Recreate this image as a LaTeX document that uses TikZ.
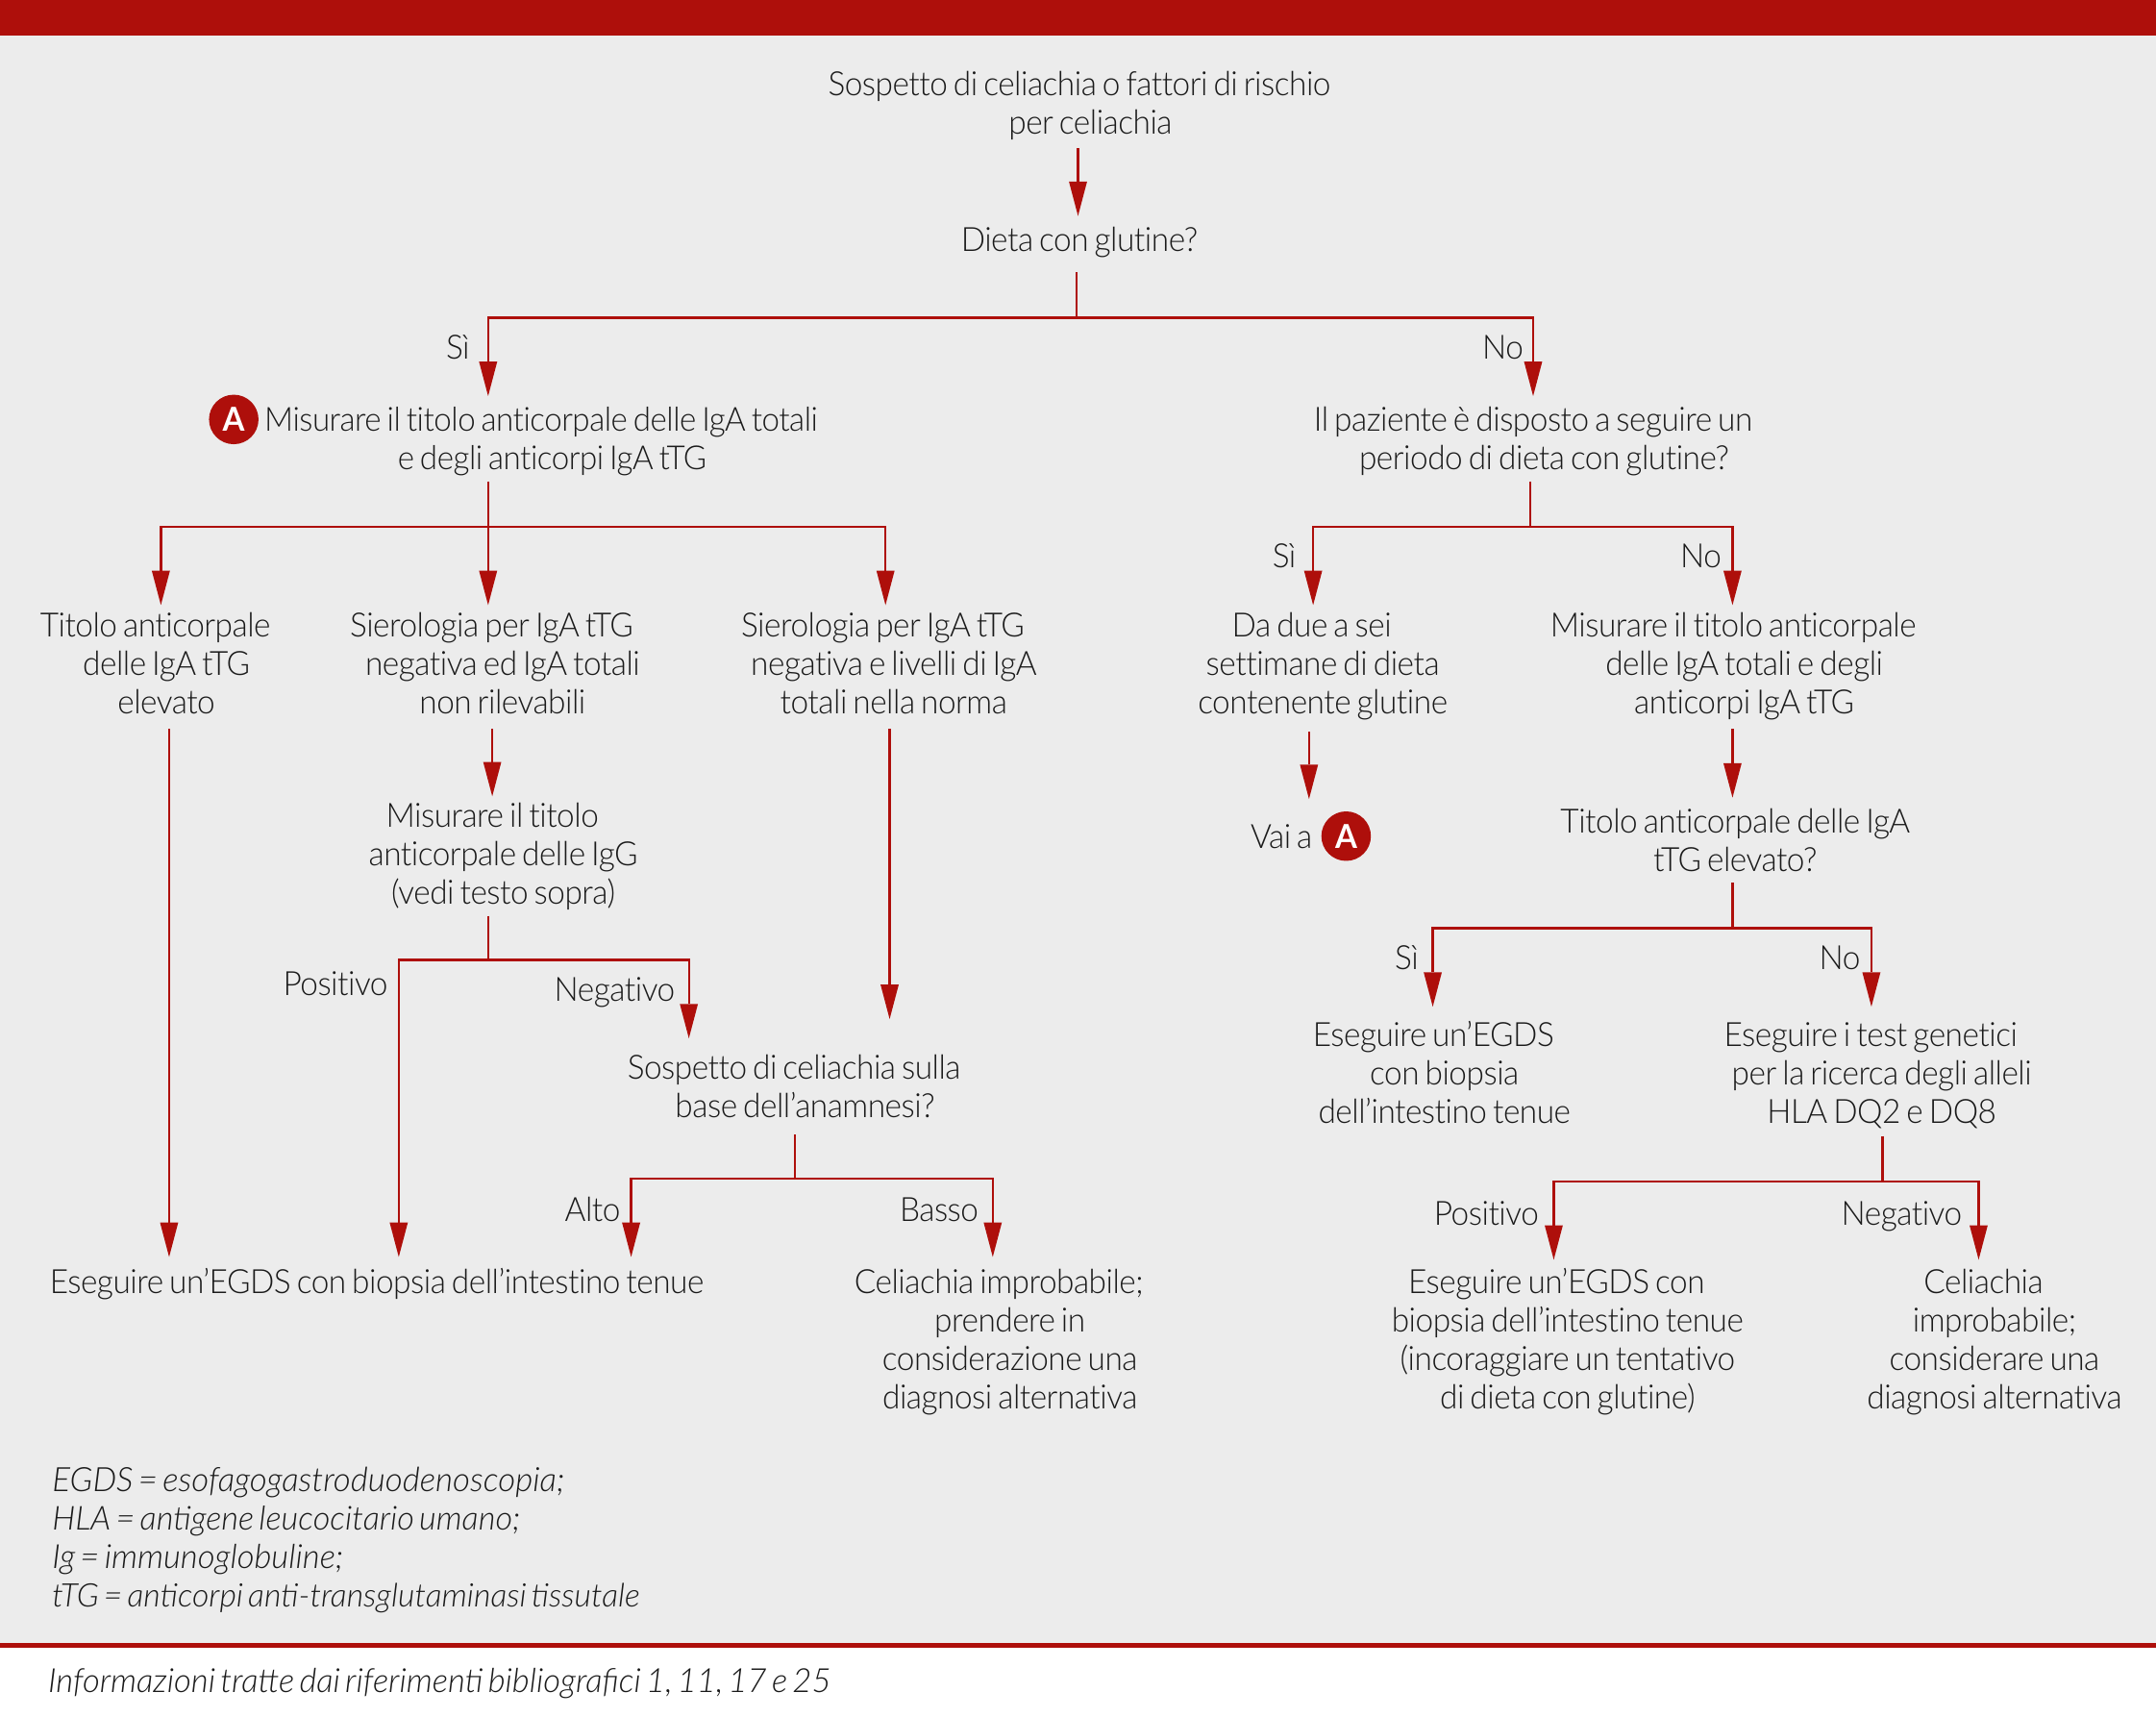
\documentclass[tikz,border=0pt]{standalone}
\usepackage{fontspec}
\setmainfont{Lato Light}[ItalicFont={Lato Light Italic},BoldFont={Lato Bold},WordSpace=0.7,FakeStretch=0.96,LetterSpace=-1.4,Ligatures=NoCommon]
\newfontfamily\notefont{Lato Light Italic}[WordSpace=0.6]
\usetikzlibrary{arrows.meta}
\definecolor{rosso}{HTML}{AE0F0B}
\definecolor{fondo}{HTML}{ECECEC}
\definecolor{testo}{HTML}{1A1A1A}
\newcommand\mystrut{\vrule width 0pt height 11.4pt depth 2.6pt\relax}
\newcommand\FL[1]{\mbox{\mystrut #1\kern 8pt}}
\tikzset{
  x=0.5pt,y=-0.5pt,
  txt/.style={inner sep=0pt,outer sep=0pt,align=center,text=testo,font=\fontsize{12.15}{14}\selectfont,
    execute at begin node=\mystrut,execute at end node=\mystrut},
  lab/.style={txt},
  note/.style={inner sep=0pt,outer sep=0pt,anchor=west,text=testo,font=\fontsize{12.1}{14}\selectfont\notefont,
    execute at begin node=\mystrut},
  badge/.style={circle,fill=rosso,text=white,inner sep=0pt,minimum size=18pt,font=\fontsize{12}{14}\selectfont\bfseries},
  ln/.style={draw=rosso,line width=0.8pt},
  arr/.style={ln,-{Triangle[length=12.5pt,width=6.6pt,line width=0pt]}}
}
\begin{document}
\begin{tikzpicture}
\useasboundingbox (0,0) rectangle (1568,1248);
\fill[white] (0,0) rectangle (1568,1248);
\fill[fondo] (0,26) rectangle (1568,1195);
\fill[rosso] (0,0) rectangle (1568,26);
\fill[rosso] (0,1195) rectangle (1568,1198);

\node[txt] (sosp) at (785,75) {\mbox{\mystrut Sospetto di celiachia o fattori di rischio}\\\mbox{\kern 8pt per celiachia}};
\node[txt] (dieta) at (785,174) {Dieta con glutine?};
\node[lab] (lsi1) at (333,252) {Sì};
\node[lab] (lno1) at (1093,252) {No};
\node[txt,font=\fontsize{12.05}{14}\selectfont] (mis) at (401.5,319) {\FL{Misurare il titolo anticorpale delle IgA totali}\\e degli anticorpi IgA tTG};
\node[badge] (ba) at (170,305) {A};
\node[txt] (paz) at (1123,319) {\FL{Il paziente è disposto a seguire un}\\periodo di dieta con glutine?};
\node[lab] (lsi2) at (934,404) {Sì};
\node[lab] (lno2) at (1237,404) {No};
\node[txt] (tit) at (121,482) {\FL{Titolo anticorpale}\\delle IgA tTG\\elevato};
\node[txt] (sie1) at (365.5,482) {\FL{Sierologia per IgA tTG}\\negativa ed IgA totali\\non rilevabili};
\node[txt] (sie2) at (650,482) {\FL{Sierologia per IgA tTG}\\negativa e livelli di IgA\\totali nella norma};
\node[txt] (due) at (962,482) {\FL{Da due a sei}\\settimane di dieta\\contenente glutine};
\node[txt] (mis2) at (1268.5,482) {\FL{Misurare il titolo anticorpale}\\delle IgA totali e degli\\anticorpi IgA tTG};
\node[txt] (igg) at (366,621) {\FL{Misurare il titolo}\\anticorpale delle IgG\\(vedi testo sopra)};
\node[txt] (vai) at (932,608) {Vai a};
\node[badge] (bb) at (979,608) {A};
\node[txt] (tit2) at (1262,611) {\mbox{\mystrut Titolo anticorpale delle IgA}\\tTG elevato?};
\node[lab] (lsi3) at (1023,696) {Sì};
\node[lab] (lno3) at (1338,696) {No};
\node[lab] (lpos1) at (244,715) {Positivo};
\node[lab] (lneg1) at (447,719) {Negativo};
\node[txt] (sosp2) at (585.5,790) {\FL{Sospetto di celiachia sulla}\\base dell’anamnesi?};
\node[txt] (eg1) at (1050.5,780) {\FL{Eseguire un’EGDS}\\con biopsia\\dell’intestino tenue};
\node[txt] (gen) at (1368.5,780) {\FL{Eseguire i test genetici}\\per la ricerca degli alleli\\HLA DQ2 e DQ8};
\node[lab] (lalto) at (431,879) {Alto};
\node[lab] (lbasso) at (683,879) {Basso};
\node[lab] (lpos2) at (1081,882) {Positivo};
\node[lab] (lneg2) at (1383,882) {Negativo};
\node[txt] (bio) at (274,932) {Eseguire un’EGDS con biopsia dell’intestino tenue};
\node[txt] (cel1) at (734.5,974) {\FL{Celiachia improbabile;}\\prendere in\\considerazione una\\diagnosi alternativa};
\node[txt] (eg2) at (1140,974) {\FL{Eseguire un’EGDS con}\\biopsia dell’intestino tenue\\(incoraggiare un tentativo\\di dieta con glutine)};
\node[txt] (cel2) at (1450.5,974) {\FL{Celiachia}\\improbabile;\\considerare una\\diagnosi alternativa};
\node[note,font=\fontsize{12.2}{14}\selectfont\notefont] (n1) at (38,1076) {EGDS = esofagogastroduodenoscopia;};
\node[note,font=\fontsize{12}{14}\selectfont\notefont] (n2) at (38,1104) {HLA = antigene leucocitario umano;};
\node[note] (n3) at (38,1132) {Ig = immunoglobuline;};
\node[note,font=\fontsize{11.8}{14}\selectfont\notefont] (n4) at (38,1160) {tTG = anticorpi anti-transglutaminasi tissutale};
\node[note] (n5) at (35,1222) {Informazioni tratte dai riferimenti bibliografici 1, 11, 17 e 25};

% connectors
\draw[arr,shorten <=2.5pt,shorten >=1.5pt] (sosp.south -| 784,0) -- (dieta.north -| 784,0);
\coordinate (j1) at (783,231);
\draw[ln,shorten <=5pt] (dieta.south -| j1) -- (j1);
\draw[arr,shorten >=1.5pt] (j1) -| (mis.north -| 355,0);
\draw[arr,shorten >=1.5pt] (j1) -| (paz.north -| 1115,0);

\coordinate (j2) at (355,383);
\draw[ln,shorten <=1.5pt] (mis.south -| j2) -- (j2);
\draw[arr] (j2) -- (sie1.north -| j2);
\draw[arr] (j2) -| (tit.north -| 117,0);
\draw[arr] (j2) -| (sie2.north -| 644,0);

\coordinate (j3) at (1113,383);
\draw[ln,shorten <=1.5pt] (paz.south -| j3) -- (j3);
\draw[arr] (j3) -| (due.north -| 955,0);
\draw[arr] (j3) -| (mis2.north -| 1260,0);

\draw[arr,shorten <=3pt,shorten >=2pt] (tit.south -| 123,0) -- (bio.north -| 123,0);
\draw[arr,shorten <=3pt] (sie1.south -| 358,0) -- (igg.north -| 358,0);
\draw[arr,shorten <=3pt,shorten >=10.5pt] (sie2.south -| 647,0) -- (sosp2.north -| 647,0);
\draw[arr,shorten <=4pt,shorten >=6.5pt] (due.south -| 952,0) -- (vai.north -| 952,0);
\draw[arr,shorten <=3pt,shorten >=1.5pt] (mis2.south -| 1260,0) -- (tit2.north -| 1260,0);

\coordinate (j4) at (355,698);
\draw[ln,shorten <=1.5pt] (igg.south -| j4) -- (j4);
\draw[arr,shorten >=2pt] (j4) -| (bio.north -| 290,0);
\draw[arr,shorten >=3.5pt] (j4) -| (sosp2.north -| 501,0);

\coordinate (j5) at (578,857);
\draw[ln,shorten <=3.5pt] (sosp2.south -| j5) -- (j5);
\draw[arr,shorten >=2pt] (j5) -| (bio.north -| 459,0);
\draw[arr,shorten >=2pt] (j5) -| (cel1.north -| 722,0);

\coordinate (j6) at (1260,675);
\draw[ln,shorten <=1.5pt] (tit2.south -| j6) -- (j6);
\draw[arr,shorten >=3pt] (j6) -| (eg1.north -| 1042,0);
\draw[arr,shorten >=3pt] (j6) -| (gen.north -| 1361,0);

\coordinate (j7) at (1369,859);
\draw[ln,shorten <=2pt] (gen.south -| j7) -- (j7);
\draw[arr,shorten >=1pt] (j7) -| (eg2.north -| 1130,0);
\draw[arr,shorten >=1pt] (j7) -| (cel2.north -| 1439,0);
\end{tikzpicture}
\end{document}
